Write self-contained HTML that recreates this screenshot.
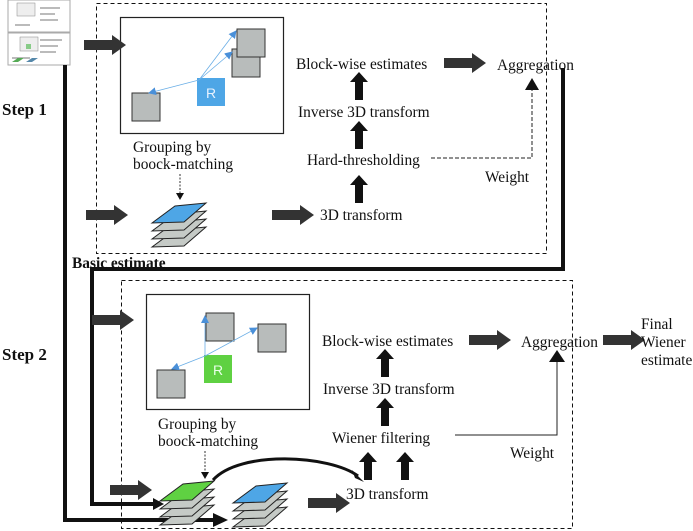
<!DOCTYPE html>
<html><head><style>
html,body{margin:0;padding:0;background:#fff;}
svg{display:block;}
text{font-family:"Liberation Serif",serif;font-size:15.4px;fill:#111;}
.b{font-weight:bold;}
</style></head><body>
<svg width="693" height="531" viewBox="0 0 693 531" xmlns="http://www.w3.org/2000/svg">
<defs>
<marker id="ah" markerWidth="8" markerHeight="8" refX="7" refY="4" orient="auto" markerUnits="userSpaceOnUse"><path d="M0,0 L8,4 L0,8 z" fill="#4a90d9"/></marker>
<g id="blk"><path d="M0,-5 H28 V-10 L42,0 L28,10 V5 H0 z" fill="#333"/></g>
<g id="up"><path d="M-4,28 V10 H-9 L0,0 L9,10 H4 V28 z" fill="#111"/></g>
<g id="layer"><path d="M0,17 L23,0 L54,-3 L32,16 z" stroke="#222" stroke-width="1"/></g>
</defs>

<!-- thumbnail -->
<rect x="8" y="0" width="62" height="32" fill="#fff" stroke="#aaa"/>
<rect x="8" y="33" width="62" height="32" fill="#fff" stroke="#aaa"/>
<rect x="17" y="3" width="18" height="13" fill="#eee" stroke="#888" stroke-width=".5"/>
<rect x="20" y="37" width="18" height="14" fill="#eee" stroke="#888" stroke-width=".5"/>
<rect x="26" y="44" width="5" height="5" fill="#8c8"/>
<path d="M40,8 H60 M40,14 H55 M40,20 H58 M15,25 H30 M40,40 H62 M40,46 H58 M40,52 H56 M12,58 H30" stroke="#777" stroke-width="1"/>
<path d="M12,62 L18,58 L24,58 L18,62z" fill="#5a5"/>
<path d="M26,62 L32,58 L38,58 L32,62z" fill="#58a"/>

<!-- dashed boxes -->
<rect x="96.5" y="3.5" width="450" height="250" fill="none" stroke="#111" stroke-width="1" stroke-dasharray="4,3"/>
<rect x="121.5" y="280.5" width="451" height="248" fill="none" stroke="#111" stroke-width="1" stroke-dasharray="4,3"/>

<!-- thick connector lines -->
<path d="M65,65 V520 H215" fill="none" stroke="#111" stroke-width="4"/>
<path d="M213,513 L228,520 L213,527 z" fill="#111"/>
<path d="M563,68 V269 H92 V504 H155" fill="none" stroke="#111" stroke-width="4"/>
<path d="M153,498 L164,504 L153,510 z" fill="#111"/>

<!-- Step 1 inner box -->
<rect x="120.5" y="17.5" width="163" height="116" fill="#fff" stroke="#222" stroke-width="1.2"/>
<rect x="232" y="49" width="28" height="28" fill="#b8bcbb" stroke="#333"/>
<rect x="237" y="29" width="28" height="28" fill="#b8bcbb" stroke="#333"/>
<rect x="132" y="93" width="28" height="28" fill="#b8bcbb" stroke="#333"/>
<rect x="197" y="78" width="28" height="28" fill="#4ea6e6"/>
<text x="211" y="98" text-anchor="middle" style="font-family:'Liberation Sans',sans-serif;font-size:14px;fill:#e8f2ff">R</text>
<g stroke="#6aaee6" stroke-width="0.8" fill="none">
<line x1="199" y1="80" x2="236" y2="31" marker-end="url(#ah)"/>
<line x1="199" y1="80" x2="232" y2="52" marker-end="url(#ah)"/>
<line x1="199" y1="80" x2="149" y2="93" marker-end="url(#ah)"/>
</g>

<text x="133" y="152">Grouping by</text>
<text x="133" y="169">boock-matching</text>
<line x1="180" y1="174" x2="180" y2="194" stroke="#333" stroke-dasharray="2,1.5"/>
<path d="M176,193 L180,200 L184,193z" fill="#111"/>
<g transform="translate(152,230)" fill="#c5cac6"><use href="#layer"/></g>
<g transform="translate(152,222)" fill="#c5cac6"><use href="#layer"/></g>
<g transform="translate(152,214)" fill="#c5cac6"><use href="#layer"/></g>
<g transform="translate(152,206)" fill="#4ea6e6"><use href="#layer"/></g>

<use href="#blk" x="84" y="45"/>
<use href="#blk" x="86" y="215"/>
<use href="#blk" x="272" y="215"/>

<text x="296" y="69">Block-wise estimates</text>
<use href="#blk" x="444" y="63"/>
<text x="497" y="70">Aggregation</text>
<use href="#up" x="359" y="72"/>
<text x="298" y="117">Inverse 3D transform</text>
<use href="#up" x="359" y="121"/>
<text x="307" y="165">Hard-thresholding</text>
<use href="#up" x="359" y="175"/>
<text x="320" y="220">3D transform</text>
<path d="M431,158 H532 V88" fill="none" stroke="#222" stroke-dasharray="4,2"/>
<path d="M525,90 L532,78 L539,90z" fill="#111"/>
<text x="485" y="182">Weight</text>

<text x="2" y="115" class="b" style="font-size:17px">Step 1</text>
<text x="72" y="268" class="b">Basic estimate</text>
<text x="2" y="360" class="b" style="font-size:17px">Step 2</text>

<!-- Step 2 inner box -->
<rect x="146.5" y="294.5" width="163" height="115" fill="#fff" stroke="#222" stroke-width="1.2"/>
<rect x="206" y="313" width="28" height="28" fill="#b8bcbb" stroke="#333"/>
<rect x="258" y="324" width="28" height="28" fill="#b8bcbb" stroke="#333"/>
<rect x="157" y="370" width="28" height="28" fill="#b8bcbb" stroke="#333"/>
<rect x="204" y="355" width="28" height="28" fill="#5fd142"/>
<text x="218" y="375" text-anchor="middle" style="font-family:'Liberation Sans',sans-serif;font-size:14px;fill:#eaffea">R</text>
<g stroke="#6aaee6" stroke-width="0.8" fill="none">
<line x1="205" y1="356" x2="205" y2="316" marker-end="url(#ah)"/>
<line x1="205" y1="356" x2="257" y2="328" marker-end="url(#ah)"/>
<line x1="205" y1="356" x2="172" y2="369" marker-end="url(#ah)"/>
</g>
<text x="158" y="429">Grouping by</text>
<text x="158" y="446">boock-matching</text>
<line x1="205" y1="451" x2="205" y2="473" stroke="#333" stroke-dasharray="2,1.5"/>
<path d="M201,472 L205,479 L209,472z" fill="#111"/>

<g transform="translate(160,508)" fill="#c5cac6"><use href="#layer"/></g>
<g transform="translate(160,500)" fill="#c5cac6"><use href="#layer"/></g>
<g transform="translate(160,492)" fill="#c5cac6"><use href="#layer"/></g>
<g transform="translate(160,484)" fill="#5fd142"><use href="#layer"/></g>
<g transform="translate(233,510)" fill="#c5cac6"><use href="#layer"/></g>
<g transform="translate(233,502)" fill="#c5cac6"><use href="#layer"/></g>
<g transform="translate(233,494)" fill="#c5cac6"><use href="#layer"/></g>
<g transform="translate(233,486)" fill="#4ea6e6"><use href="#layer"/></g>

<path d="M213,480 C240,450 330,455 358,476" fill="none" stroke="#111" stroke-width="3"/>
<path d="M352,470 L364,482 L355,478z" fill="#111"/>

<use href="#blk" x="92" y="320"/>
<use href="#blk" x="110" y="490"/>
<use href="#blk" x="308" y="503"/>

<text x="322" y="346">Block-wise estimates</text>
<use href="#blk" x="469" y="340"/>
<text x="521" y="347">Aggregation</text>
<use href="#blk" x="603" y="340"/>
<text x="641" y="329">Final</text>
<text x="641" y="347">Wiener</text>
<text x="641" y="365">estimate</text>
<use href="#up" x="385" y="349"/>
<text x="323" y="394">Inverse 3D transform</text>
<use href="#up" x="385" y="398"/>
<text x="332" y="443">Wiener filtering</text>
<use href="#up" x="368" y="452"/>
<use href="#up" x="405" y="452"/>
<text x="346" y="499">3D transform</text>
<path d="M455,435 H557 V360" fill="none" stroke="#222"/>
<path d="M549,362 L557,350 L565,362z" fill="#111"/>
<text x="510" y="458">Weight</text>
</svg>
</body></html>
